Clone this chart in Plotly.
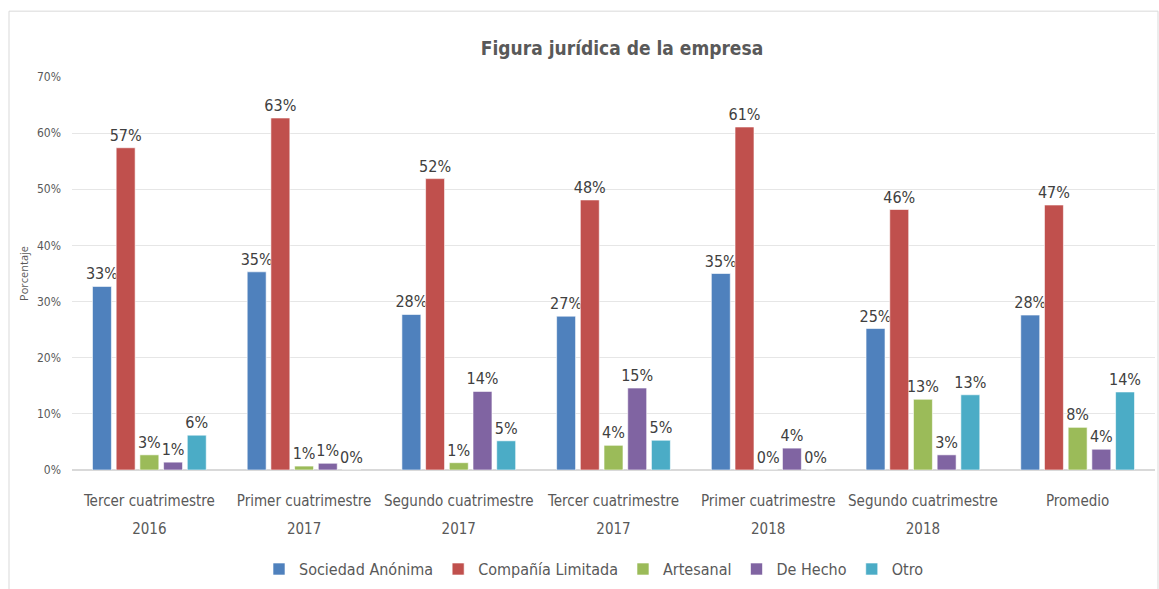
import plotly.graph_objects as go

categories = [
    "Tercer cuatrimestre 2016",
    "Primer cuatrimestre 2017",
    "Segundo cuatrimestre 2017",
    "Tercer cuatrimestre 2017",
    "Primer cuatrimestre 2018",
    "Segundo cuatrimestre 2018",
    "Promedio",
]
tick_line1 = [
    "Tercer cuatrimestre",
    "Primer cuatrimestre",
    "Segundo cuatrimestre",
    "Tercer cuatrimestre",
    "Primer cuatrimestre",
    "Segundo cuatrimestre",
    "Promedio",
]
tick_line2 = ["2016", "2017", "2017", "2017", "2018", "2018", ""]

sociedad_anonima = [0.327, 0.353, 0.277, 0.274, 0.350, 0.252, 0.276]
compania_limitada = [0.574, 0.627, 0.519, 0.481, 0.611, 0.464, 0.472]
artesanal = [0.027, 0.007, 0.013, 0.044, 0.0, 0.126, 0.076]
de_hecho = [0.014, 0.012, 0.140, 0.146, 0.039, 0.027, 0.037]
otro = [0.062, 0.0, 0.052, 0.053, 0.0, 0.134, 0.139]

series = [
    ("Sociedad Anónima", sociedad_anonima, "#4F81BD"),
    ("Compañía Limitada", compania_limitada, "#C0504D"),
    ("Artesanal", artesanal, "#9BBB59"),
    ("De Hecho", de_hecho, "#8064A2"),
    ("Otro", otro, "#4BACC6"),
]

FONT = "DejaVu Sans Condensed, Roboto, sans-serif"
n = len(categories)
idx = list(range(n))

fig = go.Figure()
for name, vals, color in series:
    fig.add_trace(go.Bar(
        name=name, x=idx, y=vals,
        marker=dict(color=color, line=dict(color="rgba(255,255,255,0.6)", width=1)),
        texttemplate="%{y:.0%}", textposition="outside",
        textfont=dict(family=FONT, size=16, color="#404040"),
        cliponaxis=False, constraintext="none",
    ))

fig.update_layout(
    width=1159, height=589,
    margin=dict(l=72, r=4, t=77, b=118),
    paper_bgcolor="white", plot_bgcolor="white",
    barmode="group", bargap=0.234, bargroupgap=0.2,
    title=dict(text="<b>Figura jurídica de la empresa</b>", x=622/1159, xanchor="center",
               y=1 - 48/589, yanchor="middle",
               font=dict(family=FONT, size=19, color="#595959")),
    font=dict(family=FONT, color="#595959"),
    showlegend=True,
    legend=dict(orientation="h", x=0.482, xanchor="center", y=-0.249, yanchor="middle",
                font=dict(family=FONT, size=16, color="#595959"),
                itemwidth=30, traceorder="normal"),
    xaxis=dict(range=[-0.5, n - 0.5], tickvals=idx, ticktext=tick_line1,
               showgrid=False, showline=False, zeroline=False, ticks="",
               ticklabelstandoff=20, tickangle=0,
               tickfont=dict(family=FONT, size=15, color="#595959")),
    xaxis2=dict(range=[-0.5, n - 0.5], tickvals=idx, ticktext=tick_line2,
                overlaying="x", anchor="y", side="bottom", matches="x",
                showgrid=False, showline=False, zeroline=False, ticks="",
                ticklabelstandoff=48, tickangle=0,
                tickfont=dict(family=FONT, size=15, color="#595959")),
)
fig.update_yaxes(range=[0, 0.7], dtick=0.1, tickformat=".0%", showgrid=True,
                 gridcolor="#e6e6e6", gridwidth=1, zeroline=True, zerolinecolor="#d9d9d9",
                 showline=False, ticks="", ticklabelstandoff=10,
                 tickfont=dict(family=FONT, size=12, color="#595959"),
                 title=dict(text="Porcentaje", standoff=6,
                            font=dict(family="Open Sans, sans-serif", size=11, color="#595959")))

# invisible helper so the second category axis is drawn
fig.add_trace(go.Scatter(x=idx, y=[0] * n, xaxis="x2", mode="markers",
                         marker=dict(opacity=0), showlegend=False, hoverinfo="skip"))

# chart-area border
fig.add_shape(type="rect", xref="paper", yref="paper",
              x0=(9 - 72) / 1083, x1=(1158 - 72) / 1083,
              y0=-0.4, y1=(471 - 11) / 394,
              line=dict(color="#d9d9d9", width=1), fillcolor="rgba(0,0,0,0)", layer="below")

fig.write_html("out.html", config={"displayModeBar": False},
               post_script="document.body.style.margin='0';")
